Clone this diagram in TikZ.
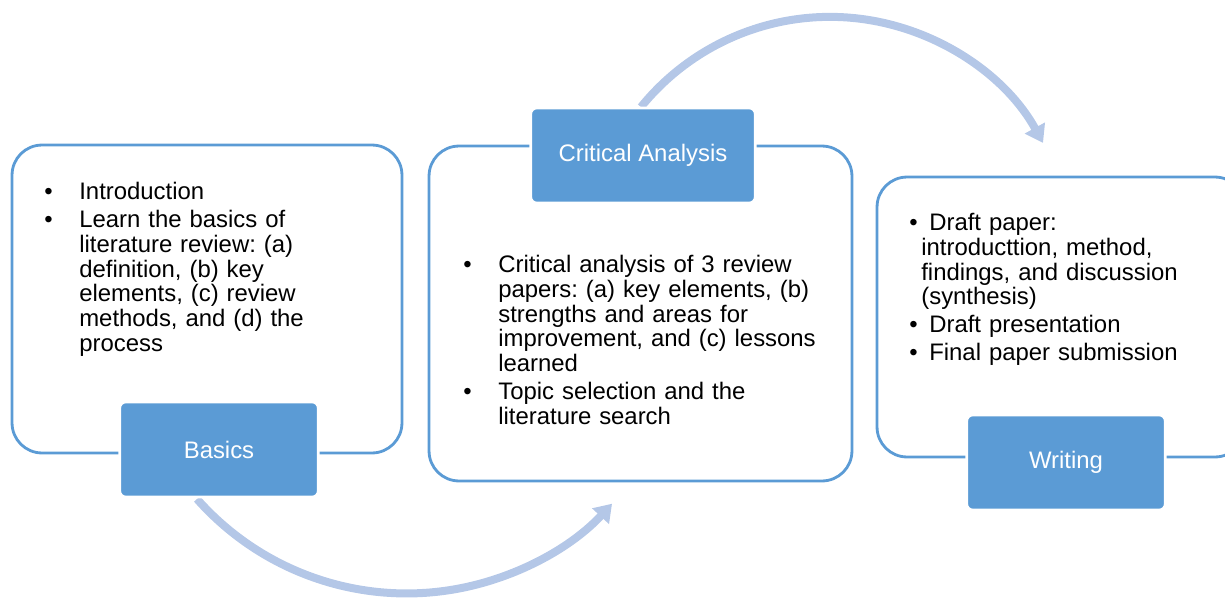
\documentclass[tikz,border=0pt]{standalone}
\usepackage{fontspec}
\setmainfont{Liberation Sans}
\usetikzlibrary{arrows.meta}

\definecolor{boxblue}{RGB}{91,155,213}
\definecolor{arcblue}{RGB}{180,199,231}

\newcommand{\itemfont}{\fontsize{13.6}{14.1}\selectfont\frenchspacing}
% bullet hung in the left margin of an item
\newcommand{\bul}[1]{\noindent\llap{\makebox[#1][l]{\textbullet}}}

\begin{document}
\begin{tikzpicture}[x=0.02cm, y=-0.02cm,
    panel/.style={draw=boxblue, line width=1.6pt, rounded corners=0.6cm},
    head/.style={fill=boxblue, draw=white, line width=1.5pt, rounded corners=0.12cm,
                 minimum height=1.9cm, text=white, font=\itemfont},
    flow/.style={draw=arcblue, line width=0.16cm, -{Triangle[width=0.44cm, length=0.34cm]}},
    items/.style={anchor=north west, inner sep=0pt, align=left, font=\itemfont}]

    \clip (0,0) rectangle (1225,599);

    % curved arrows between the stages
    \coordinate (a1) at (197,499);
    \coordinate (a2) at (641,107);
    \draw[flow] (a1) arc[start angle=-138.5, end angle=-42.8, radius=5.6cm];
    \draw[flow] (a2) arc[start angle=141, end angle=28.8, radius=4.864cm];

    \foreach \cx/\cy/\w/\h/\name in {207/299/7.8/6.16/p1, 640.5/313.5/8.46/6.7/p2, 1061/317/7.36/5.6/p3} {
        \node[panel, minimum width=\w cm, minimum height=\h cm] (\name) at (\cx,\cy) {};
    }

    \foreach \cx/\cy/\w/\lbl/\name in {219/449.5/3.97/Basics/h1, 643/155.5/4.49/Critical Analysis/h2, 1066/462.5/3.97/Writing/h3} {
        \node[head, minimum width=\w cm] (\name) at (\cx,\cy) {\lbl};
    }

    \node[items, text width=6.8cm] (t1) at (44,182) {\leftskip=0.7cm \parskip=1.8pt
        \bul{0.7cm}Introduction\par
        \bul{0.7cm}Learn the basics of\newline literature review: (a)\newline definition, (b) key\newline
        elements, (c) review\newline methods, and (d) the\newline process\par};

    \node[items, text width=7.6cm] (t2) at (463,255) {\leftskip=0.7cm \parskip=1.8pt
        \bul{0.7cm}Critical analysis of 3 review\newline papers: (a) key elements, (b)\newline
        strengths and areas for\newline improvement, and (c) lessons\newline learned\par
        \bul{0.7cm}Topic selection and the\newline literature search\par};

    \node[items, text width=6.2cm] (t3) at (909,213) {\leftskip=0.24cm \parskip=1.8pt
        \bul{0.24cm}\ Draft paper:\newline introducttion, method,\newline findings, and discussion\newline (synthesis)\par
        \bul{0.24cm}\ Draft presentation\par
        \bul{0.24cm}\ Final paper submission\par};

\end{tikzpicture}
\end{document}
